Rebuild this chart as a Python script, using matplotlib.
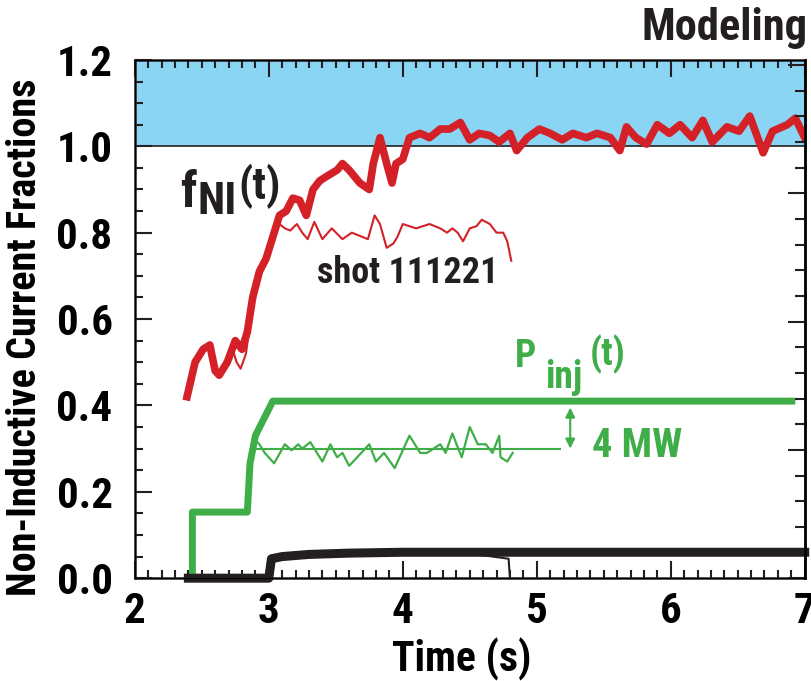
import matplotlib
matplotlib.use("Agg")
import matplotlib.pyplot as plt
from matplotlib.ticker import MultipleLocator, NullFormatter

plt.rcParams['font.family'] = ['Roboto Condensed', 'Liberation Sans Narrow', 'DejaVu Sans']
plt.rcParams['font.stretch'] = 'condensed'
plt.rcParams['font.weight'] = 'bold'

RED = "#d42027"
GREEN = "#3fae49"
BLACK = "#231f20"
BAND = "#8ad4f4"

# modelled non-inductive fraction f_NI(t)
fni_t = [2.39, 2.45, 2.51, 2.56, 2.60, 2.63, 2.69, 2.75, 2.80, 2.84, 2.88, 2.93,
         2.98, 3.03, 3.08, 3.13, 3.18, 3.23, 3.28, 3.33, 3.38, 3.43, 3.51, 3.55,
         3.60, 3.68, 3.75, 3.78, 3.83, 3.88, 3.92, 3.95, 4.00, 4.05, 4.13, 4.20,
         4.28, 4.35, 4.43, 4.50, 4.57, 4.65, 4.72, 4.80, 4.85, 4.93, 5.02, 5.10,
         5.19, 5.27, 5.37, 5.45, 5.55, 5.62, 5.67, 5.74, 5.82, 5.90, 5.99, 6.07,
         6.16, 6.24, 6.31, 6.42, 6.51, 6.59, 6.69, 6.76, 6.87, 6.93, 7.00]
fni = [0.42, 0.50, 0.53, 0.54, 0.48, 0.47, 0.50, 0.55, 0.53, 0.57, 0.65, 0.71,
       0.74, 0.79, 0.84, 0.85, 0.88, 0.875, 0.84, 0.90, 0.92, 0.93, 0.945, 0.96,
       0.945, 0.915, 0.90, 0.96, 1.02, 0.96, 0.915, 0.96, 0.97, 1.02, 1.03, 1.02,
       1.04, 1.04, 1.055, 1.015, 1.03, 1.025, 1.01, 1.03, 0.99, 1.02, 1.04, 1.03,
       1.015, 1.03, 1.02, 1.03, 1.02, 0.99, 1.045, 1.02, 1.005, 1.05, 1.03, 1.05,
       1.02, 1.06, 1.01, 1.045, 1.035, 1.07, 0.985, 1.035, 1.05, 1.065, 1.02]

# measured shot 111221
shot_t = [2.72, 2.76, 2.79, 2.83, 2.88, 2.93, 2.98, 3.03, 3.08, 3.12, 3.16, 3.21,
          3.25, 3.29, 3.34, 3.40, 3.47, 3.55, 3.62, 3.70, 3.74, 3.79, 3.83, 3.88,
          3.93, 3.96, 4.00, 4.05, 4.10, 4.15, 4.20, 4.28, 4.33, 4.37, 4.41, 4.45,
          4.50, 4.55, 4.59, 4.65, 4.70, 4.75, 4.78, 4.81]
shot = [0.54, 0.50, 0.485, 0.52, 0.64, 0.70, 0.74, 0.78, 0.82, 0.81, 0.805, 0.82,
        0.80, 0.785, 0.825, 0.785, 0.81, 0.785, 0.80, 0.79, 0.785, 0.84, 0.82, 0.765,
        0.775, 0.79, 0.82, 0.815, 0.81, 0.815, 0.82, 0.81, 0.80, 0.81, 0.80, 0.78,
        0.81, 0.815, 0.83, 0.82, 0.80, 0.80, 0.78, 0.735]

# injected power (scaled)
pinj_t = [2.43, 2.43, 2.84, 2.86, 2.90, 3.03, 6.93]
pinj = [0.01, 0.153, 0.153, 0.266, 0.33, 0.41, 0.41]

pexp_t = [2.88, 2.90, 2.93, 2.97, 3.04, 3.12, 3.17, 3.22, 3.25, 3.31, 3.40, 3.46,
          3.51, 3.55, 3.60, 3.69, 3.75, 3.80, 3.86, 3.94, 4.05, 4.13, 4.18, 4.28,
          4.32, 4.37, 4.44, 4.50, 4.56, 4.62, 4.67, 4.72, 4.73, 4.78, 4.82]
pexp = [0.28, 0.32, 0.31, 0.29, 0.266, 0.31, 0.296, 0.31, 0.30, 0.315, 0.27, 0.31,
        0.28, 0.29, 0.26, 0.29, 0.31, 0.27, 0.29, 0.255, 0.33, 0.29, 0.29, 0.31,
        0.29, 0.335, 0.28, 0.35, 0.31, 0.31, 0.29, 0.33, 0.28, 0.27, 0.29]
pref_t = [2.90, 5.17]
pref = [0.30, 0.30]

# small fractions (black)
bk_t = [2.40, 3.00, 3.02, 3.10, 3.30, 3.60, 4.00, 4.50, 5.00, 7.00]
bk = [0.0, 0.0, 0.045, 0.050, 0.055, 0.058, 0.060, 0.060, 0.060, 0.060]
bk_shot_t = [3.02, 3.20, 3.50, 4.00, 4.40, 4.60, 4.79, 4.80]
bk_shot = [0.045, 0.052, 0.055, 0.056, 0.056, 0.053, 0.045, 0.0]

fig = plt.figure(figsize=(8.12, 6.81), dpi=100)
ax = fig.add_axes([0.166, 0.151, 0.825, 0.761])


def chain(x, y, parts, color):
    # draw text pieces one after another: (text, size, dy, gap before)
    renderer = fig.canvas.get_renderer()
    dx = 0
    for s, size, dy, gap in parts:
        dx += gap
        t = ax.annotate(s, xy=(x, y), xytext=(dx, dy), textcoords='offset pixels',
                        fontsize=size, color=color, va='baseline', ha='left')
        dx += t.get_window_extent(renderer).width


ax.axhspan(1.0, 1.2, color=BAND, zorder=0, lw=0)
ax.axhline(1.0, color=BLACK, lw=1.2, zorder=1)

ax.plot(bk_t, bk, color=BLACK, lw=6.5, solid_joinstyle='round', clip_on=False, zorder=5)
ax.plot(bk_shot_t, bk_shot, color=BLACK, lw=1.5, zorder=3)
ax.plot(pinj_t, pinj, color=GREEN, lw=5, solid_capstyle='butt', zorder=3)
ax.plot(pref_t, pref, color=GREEN, lw=1.5, zorder=3)
ax.plot(pexp_t, pexp, color=GREEN, lw=1.6, zorder=3)
ax.plot(fni_t, fni, color=RED, lw=5.5, solid_joinstyle='round', zorder=4)
ax.plot(shot_t, shot, color=RED, lw=1.5, zorder=4)

ax.annotate("", xy=(5.25, 0.395), xytext=(5.25, 0.30),
            arrowprops=dict(arrowstyle="<|-|>", color=GREEN, lw=1.5,
                            mutation_scale=14, shrinkA=0, shrinkB=0))

ax.set_xlim(2, 7)
ax.set_ylim(0, 1.2)
ax.xaxis.set_major_locator(MultipleLocator(1))
ax.xaxis.set_minor_locator(MultipleLocator(0.1))
ax.yaxis.set_major_locator(MultipleLocator(0.2))
ax.yaxis.set_minor_locator(MultipleLocator(0.05))
ax.yaxis.set_major_formatter(plt.FormatStrFormatter('%.1f'))
ax.tick_params(which='both', direction='in', top=True, right=False,
               width=1.5, color=BLACK, labelsize=31)
ax.tick_params(which='major', length=12)
ax.tick_params(which='minor', length=6)
ax.tick_params(axis='x', pad=9)
ax.tick_params(axis='y', pad=16)
for s in ax.spines.values():
    s.set_linewidth(1.8)
    s.set_color(BLACK)

ax2 = ax.twinx()
ax2.set_ylim(0, 20.2)
ax2.yaxis.set_major_locator(MultipleLocator(5))
ax2.yaxis.set_minor_locator(MultipleLocator(1))
ax2.yaxis.set_major_formatter(NullFormatter())
ax2.tick_params(which='both', direction='in', width=1.5, color=BLACK)
ax2.tick_params(which='major', length=12)
ax2.tick_params(which='minor', length=7)
ax2.spines['right'].set_linewidth(1.8)

ax.set_xlabel("Time (s)", fontsize=30, fontweight='bold')
ax.set_ylabel("Non-Inductive Current Fractions", fontsize=29, fontweight='bold')
ax.xaxis.set_label_coords(0.488, -0.115)
ax.yaxis.set_label_coords(-0.135, 0.465)

chain(2.336, 0.859, [("f", 36, 0, 0), ("NI", 32, -7, 1), ("(t)", 32, 8, 2)], BLACK)
ax.text(3.36, 0.683, "shot 111221", fontsize=26, color=BLACK, va='baseline')
chain(4.836, 0.49, [("P", 27, 0, 0), ("inj", 27, -21, 9), ("(t)", 27, 1, 8)], GREEN)
ax.text(5.41, 0.28, "4 MW", fontsize=29, color=GREEN, va='baseline')

fig.text(0.995, 1 - 40 / 681, "Modeling", fontsize=32, fontweight='bold',
         ha='right', va='baseline', color=BLACK)

fig.savefig("out.png", dpi=100)
